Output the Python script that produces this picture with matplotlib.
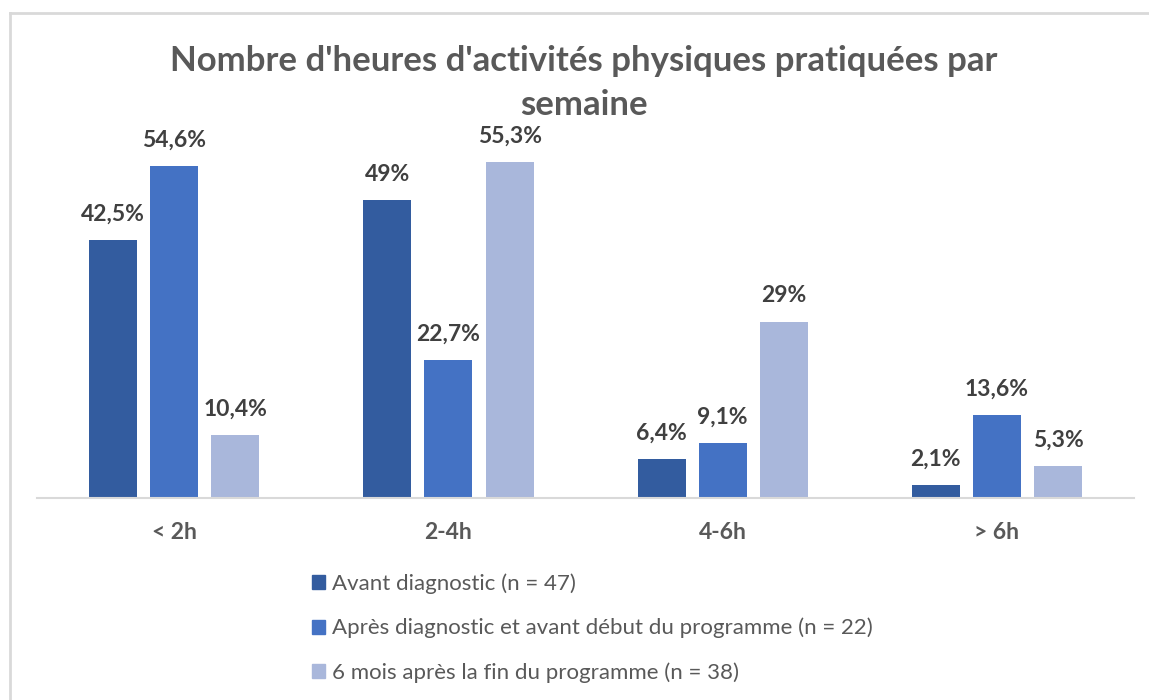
import numpy as np
import matplotlib.pyplot as plt
from matplotlib.lines import Line2D

categories = ['< 2h', '2-4h', '4-6h', '> 6h']
series_names = ['Avant diagnostic (n = 47)',
                'Après diagnostic et avant début du programme (n = 22)',
                '6 mois après la fin du programme (n = 38)']
avant = [42.5, 49, 6.4, 2.1]
apres = [54.6, 22.7, 9.1, 13.6]
six_mois = [10.4, 55.3, 29, 5.3]
labels_avant = ['42,5%', '49%', '6,4%', '2,1%']
labels_apres = ['54,6%', '22,7%', '9,1%', '13,6%']
labels_six = ['10,4%', '55,3%', '29%', '5,3%']

colors = ['#335C9F', '#4472C4', '#A9B7DB']
font = ['Lato', 'DejaVu Sans']
plt.rcParams['font.family'] = font

fig = plt.figure(figsize=(11.49, 7.0), dpi=100)
ax = fig.add_axes([0.0322, 0.2886, 0.9548, 0.5209])

x = np.arange(len(categories))
w = 0.175
off = 0.223
series = [avant, apres, six_mois]
labs = [labels_avant, labels_apres, labels_six]
for i, (vals, lab, c, name) in enumerate(zip(series, labs, colors, series_names)):
    bars = ax.bar(x + (i - 1) * off, vals, width=w, color=c, label=name)
    for b, t in zip(bars, lab):
        ax.annotate(t, (b.get_x() + b.get_width() / 2, b.get_height()),
                    xytext=(0, 11), textcoords='offset points', ha='center', va='bottom',
                    fontsize=16.5, fontweight='bold', color='#404040')

ax.set_xlim(-0.5, 3.5)
ax.set_ylim(0, 60)
ax.set_xticks(x)
ax.set_xticklabels(categories, fontsize=16.5, fontweight='bold', color='#595959')
ax.tick_params(axis='x', length=0, pad=17)
ax.set_yticks([])
for s in ['top', 'right', 'left']:
    ax.spines[s].set_visible(False)
ax.spines['bottom'].set_color('#D9D9D9')
ax.spines['bottom'].set_linewidth(1.5)

fig.text(0.508, 0.913, "Nombre d'heures d'activités physiques pratiquées par",
         ha='center', va='center', fontsize=25, fontweight='bold', color='#595959')
fig.text(0.508, 0.850, "semaine",
         ha='center', va='center', fontsize=25, fontweight='bold', color='#595959')

handles = [plt.Rectangle((0, 0), 1, 1, color=c) for c in colors]
leg = fig.legend(handles, series_names, loc='upper left', bbox_to_anchor=(0.262, 0.197),
                 frameon=False, fontsize=16, handlelength=0.6, handleheight=0.6,
                 handletextpad=0.3, labelspacing=1.08, borderpad=0)
for t in leg.get_texts():
    t.set_color('#595959')

# cadre du graphique (haut et gauche)
fig.add_artist(Line2D([0.0083, 1.0], [0.982, 0.982], color='#D9D9D9', lw=2, transform=fig.transFigure))
fig.add_artist(Line2D([0.0083, 0.0083], [0.0, 0.982], color='#D9D9D9', lw=2, transform=fig.transFigure))

plt.savefig('out.png', dpi=100)
